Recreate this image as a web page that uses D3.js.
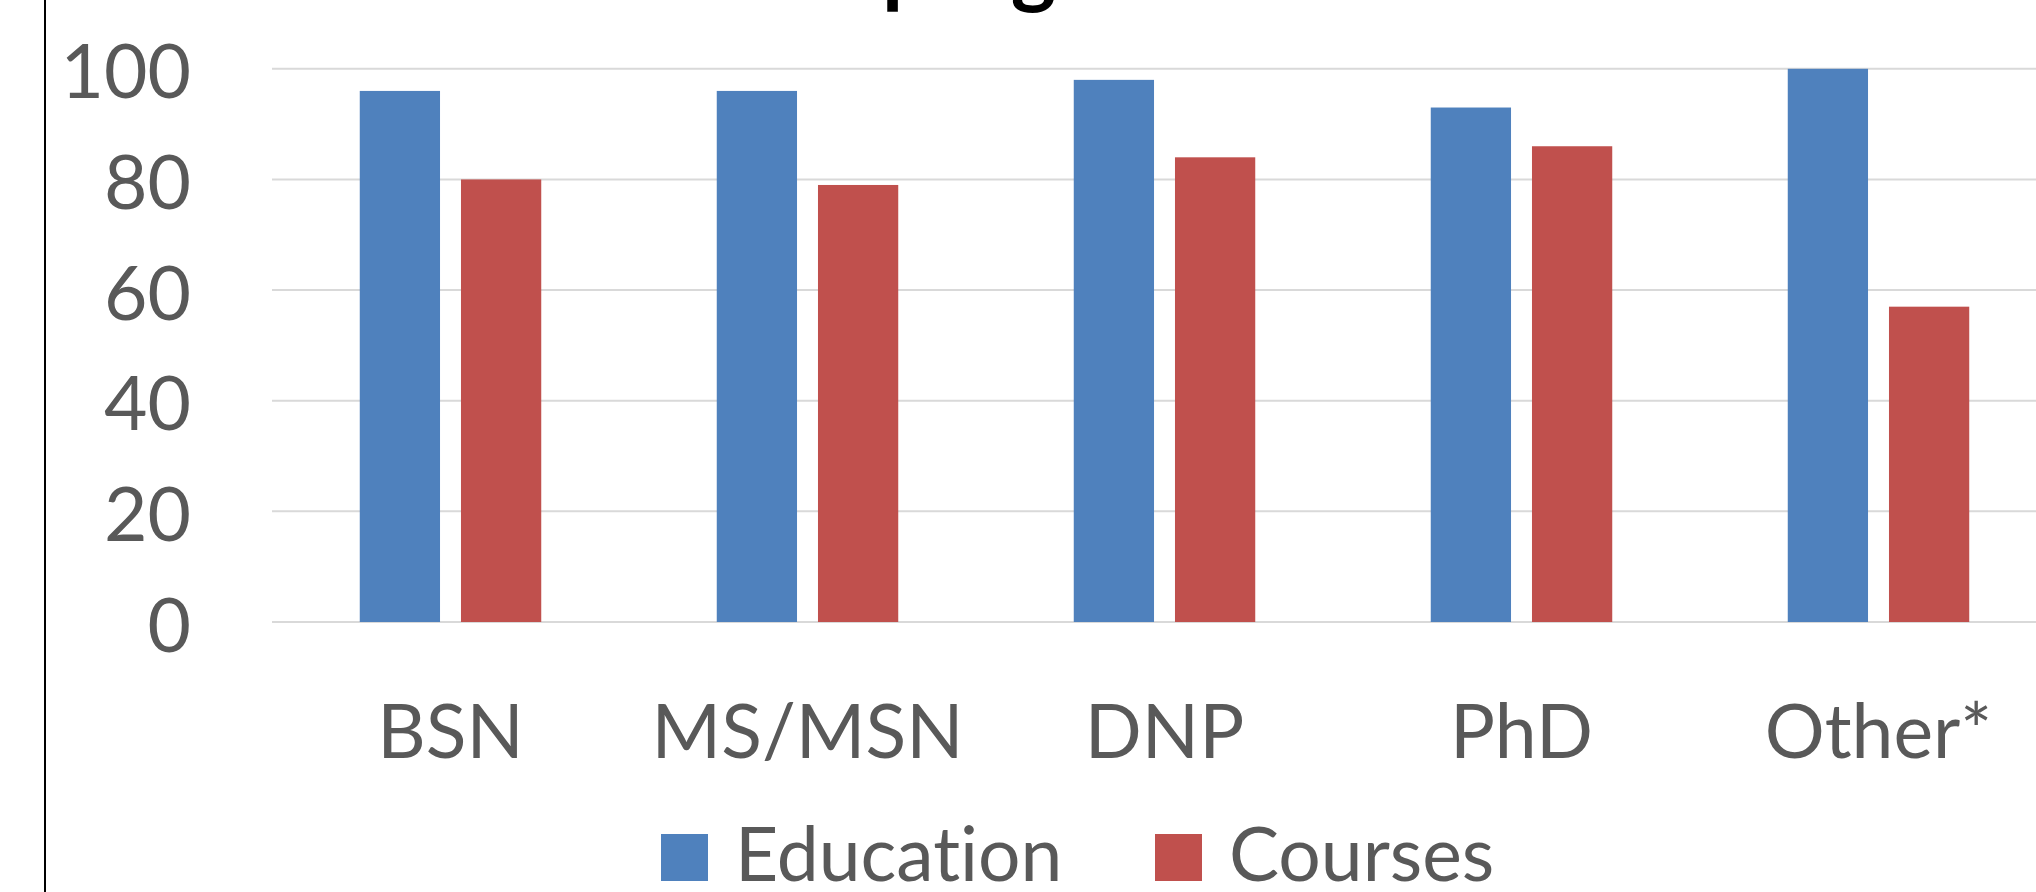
<!DOCTYPE html>
<html>
<head>
<meta charset="utf-8">
<script src="https://cdn.jsdelivr.net/npm/d3@7"></script>
<style>
  html, body { margin: 0; padding: 0; background: #ffffff; overflow: hidden; }
  svg { display: block; }
  text { font-family: Lato, "Open Sans", sans-serif; font-variant-ligatures: none; font-feature-settings: "liga" 0; }
</style>
</head>
<body>
<svg id="chart" width="2036" height="892"></svg>
<script>
// Program types along the horizontal axis
const categories = ["BSN", "MS/MSN", "DNP", "PhD", "Other*"];
// Series names (legend order)
const seriesNames = ["Education", "Courses"];
// Percent of programs, per series
const educationValues = [96, 96, 98, 93, 100];
const coursesValues = [80, 79, 84, 86, 57];
// Value-axis ticks
const yTicks = [0, 20, 40, 60, 80, 100];

const colors = { Education: "#4F81BD", Courses: "#C0504D" };
const textColor = "#595959";

const svg = d3.select("#chart");
const W = 2036, H = 892;

const rows = categories.map((c, i) => ({
  category: c,
  Education: educationValues[i],
  Courses: coursesValues[i]
}));

// Plot area (right part runs past the visible edge)
const plotLeft = 272, step = 357;
const plotRight = plotLeft + step * categories.length;
const plotTop = 68.8, plotBottom = 622;

const x0 = d3.scaleBand().domain(categories).range([plotLeft, plotRight]).padding(0);
const x1 = d3.scaleBand().domain(seriesNames).range([0, x0.bandwidth()])
  .paddingInner(0.207).paddingOuter(0.867);
const y = d3.scaleLinear().domain([0, 100]).range([plotBottom, plotTop]);

// Left frame line
svg.append("line")
  .attr("x1", 45).attr("x2", 45).attr("y1", 0).attr("y2", H)
  .attr("stroke", "#000").attr("stroke-width", 2);

// Title (sits above the visible area; only descenders reach in)
const title = svg.append("text")
  .attr("y", -3)
  .attr("font-size", 86)
  .attr("font-weight", 700)
  .attr("fill", "#000");
title.append("tspan").text("Percent of ");
title.append("tspan").text("programs");
const prefixW = title.select("tspan").node().getComputedTextLength();
title.attr("x", 882 - prefixW);

// Gridlines
svg.append("g")
  .selectAll("line")
  .data(yTicks)
  .join("line")
  .attr("x1", plotLeft).attr("x2", plotRight)
  .attr("y1", d => y(d)).attr("y2", d => y(d))
  .attr("stroke", "#D9D9D9").attr("stroke-width", 2);

// Y axis labels
const yAxis = d3.axisLeft(y).tickValues(yTicks).tickSize(0).tickPadding(0);
const gy = svg.append("g").attr("transform", "translate(191,0)").call(yAxis);
gy.select(".domain").remove();
gy.selectAll("text")
  .attr("font-size", 75)
  .attr("font-family", "Lato, 'Open Sans', sans-serif")
  .attr("fill", textColor)
  .attr("dy", null)
  .attr("dominant-baseline", "central");

// Bars
const groups = svg.append("g")
  .selectAll("g")
  .data(rows)
  .join("g")
  .attr("transform", d => `translate(${x0(d.category)},0)`);

groups.selectAll("rect")
  .data(d => seriesNames.map(s => ({ key: s, value: d[s] })))
  .join("rect")
  .attr("x", d => x1(d.key))
  .attr("width", x1.bandwidth())
  .attr("y", d => y(d.value))
  .attr("height", d => y(0) - y(d.value))
  .attr("fill", d => colors[d.key]);

// Category labels
const xAxis = d3.axisBottom(x0).tickSize(0).tickPadding(0);
const gx = svg.append("g").attr("transform", "translate(0,758)").call(xAxis);
gx.select(".domain").remove();
gx.selectAll("text")
  .attr("font-size", 75)
  .attr("font-family", "Lato, 'Open Sans', sans-serif")
  .attr("fill", textColor)
  .attr("y", 0)
  .attr("dy", null);

// Legend
const legendItems = [
  { key: "Education", sx: 661, tx: 735 },
  { key: "Courses", sx: 1155, tx: 1229 }
];
const lg = svg.append("g");
legendItems.forEach(it => {
  lg.append("rect")
    .attr("x", it.sx).attr("y", 834)
    .attr("width", 47).attr("height", 47)
    .attr("fill", colors[it.key]);
  lg.append("text")
    .attr("x", it.tx).attr("y", 881)
    .attr("font-size", 75)
    .attr("fill", textColor)
    .text(it.key);
});
</script>
</body>
</html>
